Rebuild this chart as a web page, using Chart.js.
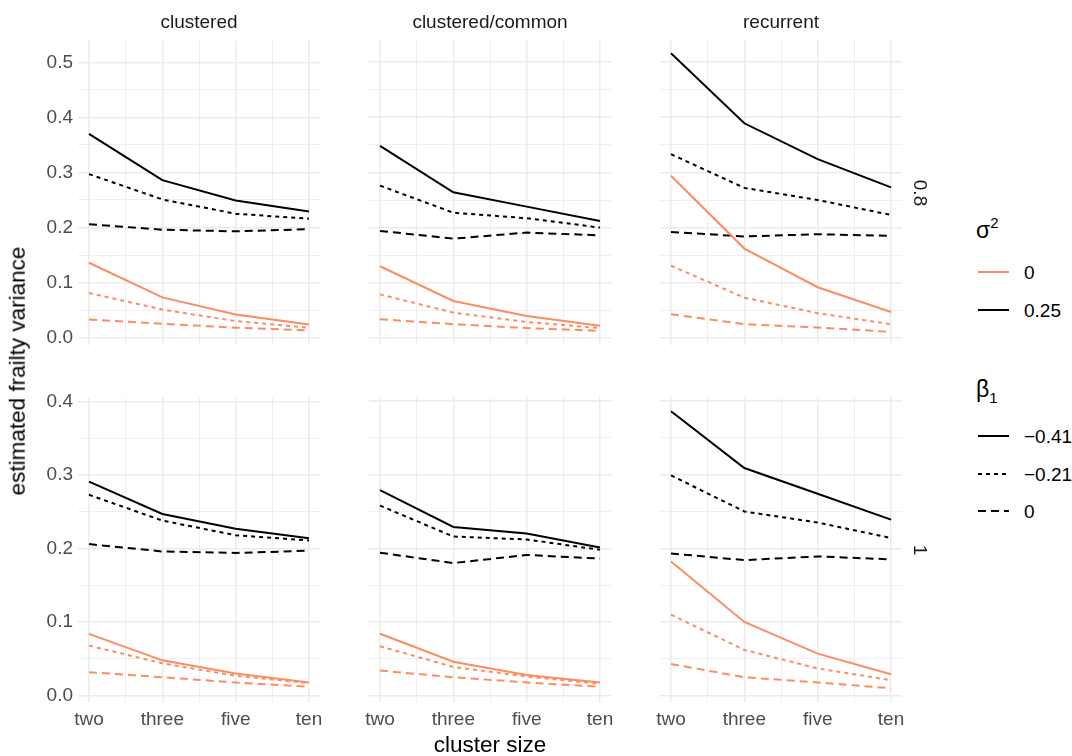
<!DOCTYPE html>
<html>
<head>
<meta charset="utf-8">
<script src="https://cdn.jsdelivr.net/npm/chart.js@4.4.1/dist/chart.umd.min.js"></script>
<style>
  body { margin: 0; background: #fff; font-family: "Liberation Sans", Arial, sans-serif; }
  #wrap { position: relative; width: 1072px; height: 756px; overflow: hidden; }
  canvas { position: absolute; }
  .txt { position: absolute; white-space: nowrap; line-height: 1; }
  .strip { font-size: 19px; color: #1a1a1a; transform: translateX(-50%); }
  .rstrip { font-size: 19px; color: #1a1a1a; transform: translate(-50%, -50%) rotate(90deg); }
  .lgtitle { font-size: 23px; color: #000; }
  .lglab { font-size: 19px; color: #000; transform: translateY(-50%); }
  svg.key { position: absolute; }
</style>
</head>
<body>
<div id="wrap"></div>
<script>
console.log("facet chart loaded");

// facets and categories
const designs = ["clustered", "clustered/common", "recurrent"];
const frailtyRows = ["0.8", "1"];
const clusterSizes = ["two", "three", "five", "ten"];
const yTicksTop = [0, 0.1, 0.2, 0.3, 0.4, 0.5];
const yTicksBottom = [0, 0.1, 0.2, 0.3, 0.4];

// series order inside every panel
const seriesSigma2 = ["0.25", "0.25", "0.25", "0", "0", "0"];
const seriesBeta1 = ["\u22120.41", "\u22120.21", "0", "\u22120.41", "\u22120.21", "0"];

// row 0.8
const clustered_08 = [
  [0.370, 0.286, 0.249, 0.229],
  [0.297, 0.251, 0.225, 0.216],
  [0.206, 0.196, 0.193, 0.197],
  [0.136, 0.073, 0.042, 0.024],
  [0.081, 0.051, 0.030, 0.018],
  [0.033, 0.025, 0.018, 0.013]
];
const clusteredCommon_08 = [
  [0.348, 0.264, 0.238, 0.212],
  [0.276, 0.227, 0.217, 0.200],
  [0.194, 0.180, 0.191, 0.186],
  [0.130, 0.067, 0.040, 0.022],
  [0.079, 0.046, 0.029, 0.018],
  [0.034, 0.025, 0.018, 0.013]
];
const recurrent_08 = [
  [0.516, 0.389, 0.324, 0.273],
  [0.333, 0.272, 0.250, 0.223],
  [0.192, 0.184, 0.188, 0.185],
  [0.294, 0.162, 0.092, 0.047],
  [0.131, 0.073, 0.045, 0.025],
  [0.043, 0.025, 0.019, 0.011]
];

// row 1
const clustered_1 = [
  [0.291, 0.247, 0.227, 0.214],
  [0.273, 0.238, 0.218, 0.211],
  [0.206, 0.196, 0.194, 0.197],
  [0.084, 0.048, 0.030, 0.018],
  [0.068, 0.044, 0.027, 0.017],
  [0.032, 0.025, 0.018, 0.012]
];
const clusteredCommon_1 = [
  [0.279, 0.229, 0.220, 0.201],
  [0.258, 0.216, 0.212, 0.198],
  [0.194, 0.180, 0.191, 0.186],
  [0.084, 0.046, 0.028, 0.018],
  [0.067, 0.039, 0.026, 0.016],
  [0.034, 0.025, 0.018, 0.012]
];
const recurrent_1 = [
  [0.386, 0.309, 0.274, 0.239],
  [0.299, 0.250, 0.235, 0.214],
  [0.193, 0.184, 0.189, 0.185],
  [0.182, 0.100, 0.057, 0.029],
  [0.110, 0.062, 0.037, 0.021],
  [0.043, 0.025, 0.018, 0.010]
];

const panelData = [
  [clustered_08, clusteredCommon_08, recurrent_08],
  [clustered_1, clusteredCommon_1, recurrent_1]
];

const sigmaColor = { "0": "#FC8D62", "0.25": "#000000" };
const betaDash = { "\u22120.41": [], "\u22120.21": [4, 4], "0": [8, 5] };

const gridColor = "#ebebeb";
const tickColor = "#4d4d4d";
const fontFamily = "'Liberation Sans', Arial, sans-serif";

// panel geometry (plot areas)
const colLeft = [78, 369, 660];
const panelW = 242;
const rowTop = [40, 397];
const panelH = 305;
const yRange = [[-0.0127, 0.5399], [-0.0086, 0.4054]];
const pad = 16; // room for label overflow so the plot area keeps its size

const wrap = document.getElementById("wrap");

function isMajor(v, step) {
  return Math.abs(v / step - Math.round(v / step)) < 1e-6;
}

function withMinor(list) {
  const out = [];
  for (let i = 0; i < list.length; i++) {
    out.push(list[i]);
    if (i < list.length - 1) out.push((list[i] + list[i + 1]) / 2);
  }
  return out;
}

function makePanel(r, c) {
  const leftAxis = c === 0 ? 60 : 24;
  const bottomAxis = r === 1 ? 36 : 0;
  const padBottom = r === 1 ? 0 : pad;
  const canvas = document.createElement("canvas");
  canvas.width = leftAxis + panelW + 24;
  canvas.height = pad + panelH + bottomAxis + padBottom;
  canvas.style.left = (colLeft[c] - leftAxis) + "px";
  canvas.style.top = (rowTop[r] - pad) + "px";
  wrap.appendChild(canvas);

  const yTicks = r === 0 ? yTicksTop : yTicksBottom;
  const xTicks = clusterSizes.map((s, i) => i + 1);
  const rows = panelData[r][c];

  // orange first, black on top
  const order = [3, 4, 5, 0, 1, 2];
  const datasets = order.map((k) => ({
    label: "\u03c3\u00b2=" + seriesSigma2[k] + ", \u03b2\u2081=" + seriesBeta1[k],
    data: rows[k].map((v, i) => ({ x: i + 1, y: v })),
    borderColor: sigmaColor[seriesSigma2[k]],
    borderDash: betaDash[seriesBeta1[k]],
    borderWidth: 2,
    pointRadius: 0,
    fill: false,
    tension: 0
  }));

  new Chart(canvas.getContext("2d"), {
    type: "line",
    data: { datasets: datasets },
    options: {
      responsive: false,
      animation: false,
      layout: { padding: { top: pad, bottom: padBottom, left: 0, right: 24 } },
      plugins: { legend: { display: false }, tooltip: { enabled: false } },
      scales: {
        x: {
          type: "linear",
          min: 0.85,
          max: 4.15,
          afterBuildTicks: (scale) => {
            scale.ticks = withMinor(xTicks).map((v) => ({ value: v }));
          },
          afterFit: (scale) => { scale.height = bottomAxis; },
          border: { display: false },
          grid: {
            color: gridColor,
            drawTicks: false,
            lineWidth: (ctx) => (ctx.tick && isMajor(ctx.tick.value, 1) ? 1.5 : 0.8)
          },
          ticks: {
            display: r === 1,
            autoSkip: false,
            maxRotation: 0,
            padding: 6,
            color: tickColor,
            font: { family: fontFamily, size: 19 },
            callback: (v) => (isMajor(v, 1) ? clusterSizes[Math.round(v) - 1] : "")
          }
        },
        y: {
          type: "linear",
          min: yRange[r][0],
          max: yRange[r][1],
          afterBuildTicks: (scale) => {
            scale.ticks = withMinor(yTicks).map((v) => ({ value: v }));
          },
          afterFit: (scale) => { scale.width = leftAxis; },
          border: { display: false },
          grid: {
            color: gridColor,
            drawTicks: false,
            lineWidth: (ctx) => (ctx.tick && isMajor(ctx.tick.value, 0.1) ? 1.5 : 0.8)
          },
          ticks: {
            display: c === 0,
            autoSkip: false,
            padding: 5,
            color: tickColor,
            font: { family: fontFamily, size: 19 },
            callback: (v) => (isMajor(v, 0.1) ? v.toFixed(1) : "")
          }
        }
      }
    }
  });
}

for (let r = 0; r < frailtyRows.length; r++) {
  for (let c = 0; c < designs.length; c++) {
    makePanel(r, c);
  }
}

function addText(cls, text, left, top, extra) {
  const d = document.createElement("div");
  d.className = "txt " + cls;
  d.textContent = text;
  d.style.left = left + "px";
  d.style.top = top + "px";
  if (extra) Object.assign(d.style, extra);
  wrap.appendChild(d);
  return d;
}

// strip labels
designs.forEach((name, c) => addText("strip", name, colLeft[c] + panelW / 2, 12));
frailtyRows.forEach((name, r) => addText("rstrip", name, 920, rowTop[r] + panelH / 2));

// axis titles
addText("", "estimated frailty variance", 18, 371, {
  fontSize: "22.5px", color: "#000", transform: "translate(-50%, -50%) rotate(-90deg)"
});
addText("", "cluster size", 490, 734, {
  fontSize: "22.5px", color: "#000", transform: "translateX(-50%)"
});

// legend
function keyLine(x, y, color, dash) {
  const ns = "http://www.w3.org/2000/svg";
  const svg = document.createElementNS(ns, "svg");
  svg.setAttribute("class", "key");
  svg.setAttribute("width", "32");
  svg.setAttribute("height", "6");
  svg.style.left = x + "px";
  svg.style.top = (y - 3) + "px";
  const ln = document.createElementNS(ns, "line");
  ln.setAttribute("x1", "0"); ln.setAttribute("x2", "31");
  ln.setAttribute("y1", "3"); ln.setAttribute("y2", "3");
  ln.setAttribute("stroke", color);
  ln.setAttribute("stroke-width", "2");
  if (dash.length) ln.setAttribute("stroke-dasharray", dash.join(" "));
  svg.appendChild(ln);
  wrap.appendChild(svg);
}

const sigmaLegend = ["0", "0.25"];
const betaLegend = ["\u22120.41", "\u22120.21", "0"];

const t1 = addText("lgtitle", "", 976, 219);
t1.innerHTML = "\u03c3<span style='font-size:15px;position:relative;top:-10px'>2</span>";
sigmaLegend.forEach((s, i) => {
  const y = 272 + i * 38;
  keyLine(978, y, sigmaColor[s], []);
  addText("lglab", s, 1024, y);
});

const t2 = addText("lgtitle", "", 976, 378);
t2.innerHTML = "\u03b2<span style='font-size:15px;position:relative;top:6px'>1</span>";
betaLegend.forEach((b, i) => {
  const y = 436 + i * 37.5;
  keyLine(978, y, "#000000", betaDash[b]);
  addText("lglab", b, 1024, y);
});
</script>
</body>
</html>
